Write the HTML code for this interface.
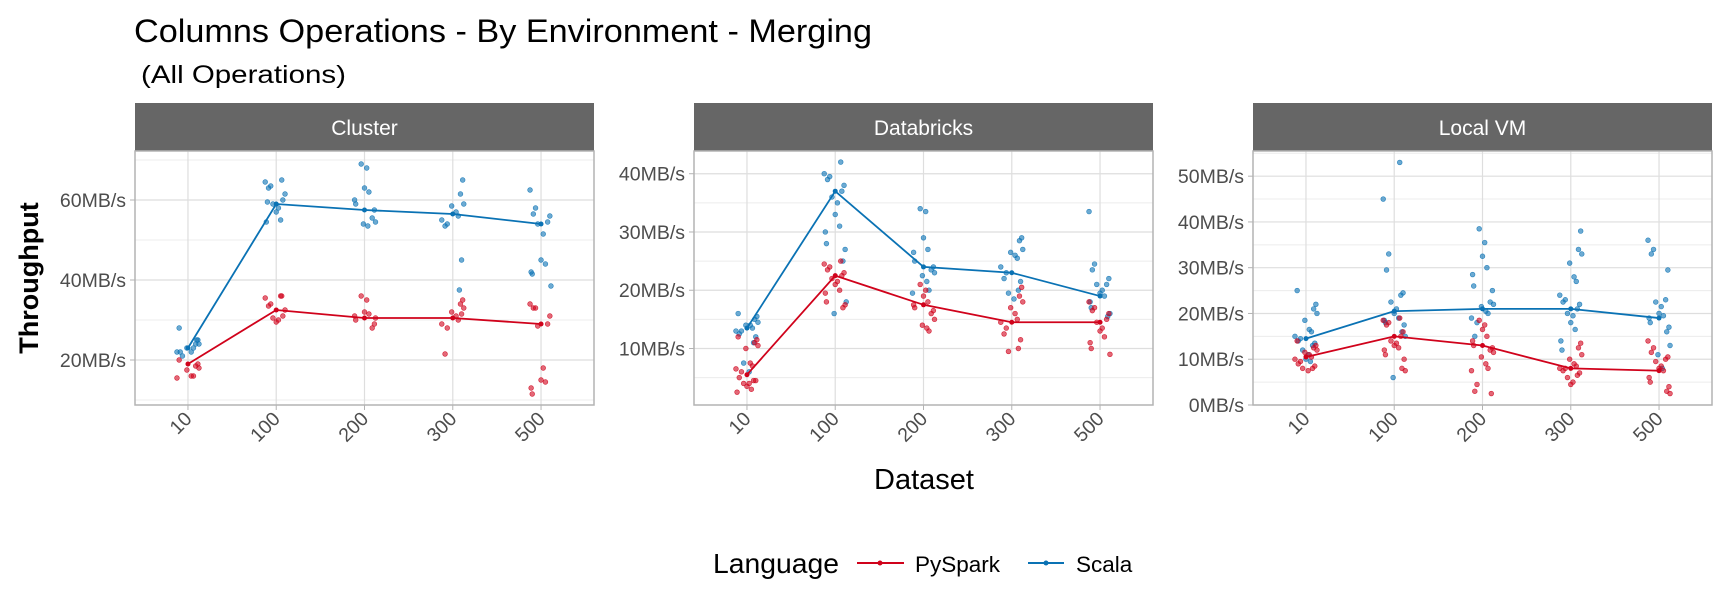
<!DOCTYPE html>
<html><head><meta charset="utf-8"><style>
body{margin:0;background:#fff}
svg{display:block;font-family:"Liberation Sans",Arial,sans-serif}
</style></head><body>
<svg id="c" width="1728" height="614" xmlns="http://www.w3.org/2000/svg">
<text x="134" y="42" font-size="32" textLength="738" lengthAdjust="spacingAndGlyphs" fill="#000">Columns Operations - By Environment - Merging</text>
<text x="141" y="83" font-size="25" textLength="205" lengthAdjust="spacingAndGlyphs" fill="#000">(All Operations)</text>
<text transform="translate(38,278) rotate(-90)" text-anchor="middle" font-size="27" font-weight="bold" fill="#000">Throughput</text>
<text x="924" y="489" text-anchor="middle" font-size="29" fill="#000">Dataset</text>
<g>
<text x="713" y="573" font-size="28" textLength="126" lengthAdjust="spacingAndGlyphs" fill="#000">Language</text>
<g><line x1="857" y1="563" x2="904" y2="563" stroke="#d0021b" stroke-width="2"/><circle cx="880" cy="563" r="2.5" fill="#d0021b"/><text x="915" y="572" font-size="22.5" fill="#000">PySpark</text></g>
<g><line x1="1028" y1="563" x2="1064" y2="563" stroke="#0a72b4" stroke-width="2"/><circle cx="1046" cy="563" r="2.5" fill="#0a72b4"/><text x="1076" y="572" font-size="22.5" fill="#000">Scala</text></g>
</g>
<g id="panels"></g>
</svg>
<script>
const categories=["10","100","200","300","500"];
const panelNames=["Cluster","Databricks","Local VM"];
const yTicks=[[20,40,60],[10,20,30,40],[0,10,20,30,40,50]];
const yMinor=[[10,30,50,70],[5,15,25,35],[5,15,25,35,45,55]];
const yDomain=[[8.75,72.25],[0.3,43.9],[0,55.5]];
const meanPy=[[19,32.5,30.5,30.5,29],[5.5,22.5,17.5,14.5,14.5],[10.5,15,13,8,7.5]];
const meanSc=[[23,59,57.5,56.5,54],[13.5,37,24,23,19],[14.5,20.5,21,21,19]];
const ptsSc=[
[[28,25,24,24,23,22,23,22,21,22,25],[65,64.5,63.5,63,61.5,60,59,58,57,55,54.5,59.5],[69,68,63,62,60,59,57.5,55.5,54.5,54,53.5],[65,61.5,59,58.5,57,56,55,54,53.5,45,37.5],[62.5,58,56.5,56,54.5,54,51.5,45,44,42,41.5,38.5]],
[[16,15.5,15,14.5,14,14,13.5,13,13,12.5,12,11,7.5,6],[42,40,39.5,39,38,37,36,35,33,31,30,28,27,25,18,16],[34,33.5,29,27,26.5,25,24,23.5,23,22.5,21.5,20,19.5],[29,28.5,27,26.5,26,25.5,24,23,22,21.5,20,19.5,18.5],[33.5,24.5,23.5,22,21,21,20,19.5,19,18,17,16,15.5]],
[[25,22,21,20,18.5,16.5,16,15,14.5,14,13.5,13,12,11,10,9.5],[53,45,33,29.5,24.5,24,22.5,21,20,19,18.5,18,17.5,16,15,6],[38.5,35.5,32.5,30,28.5,26,25,22.5,22,21.5,20.5,20,19,18,15],[38,34,33,31,28,27,24,23,22.5,22,21,20,19.5,18,16.5,14,12],[36,34,33,29.5,23,22.5,21.5,20,19.5,19,18,17,16,13,11,8]]];
const ptsPy=[
[[20,19,18.5,18,17.5,16,16,15.5],[36,35.5,34,33.5,32.5,31,30.5,30,29.5,36],[36,35,32,31.5,31,30,29,28,30.5],[35,34,33,32,31,30,29,28,21.5,31.5],[34,33,33,31,29,28.5,18,15,14.5,13,11.5]],
[[12,11.5,11,10.5,10,7.5,7,6.5,6,5,4.5,4.5,4,4,3.5,3,2.5],[25,24.5,24,23.5,23,22.5,22,21.5,21,20,19.5,18,17.5,17],[21,20,19,18,17.5,17,16.5,16,15,14,13.5,13],[20.5,19,18,17,16,15,14.5,13.5,12.5,11.5,10,9.5],[18,17,16.5,16,15,14.5,13.5,13,12,11,10,9]],
[[14,13,12.5,12,11.5,11,10.5,10,9.5,9,8.5,8,8,7.5],[19,18.5,18,17.5,16,15,14,13.5,13,12.5,12,11,10,8,7.5],[18.5,17.5,16.5,15,14,13,12.5,12,11.5,10.5,9,8,7.5,4.5,3,2.5],[13.5,12.5,11,10,9,8.5,8,8,7.5,7,6.5,6,5,4.5],[14,12.5,11.5,10.5,10,9.5,8.5,8,7.5,6,5,4,3,2.5]]];

const NS="http://www.w3.org/2000/svg";
const PX=[135,694,1253],PW=459,TOP=151,BOT=405,STRIP=103;
const PY="#d0021b",SC="#0a72b4";
function mk(t,a,p){const e=document.createElementNS(NS,t);for(const k in a)e.setAttribute(k,a[k]);p.appendChild(e);return e;}
const root=document.getElementById('panels');
const jit=[-8,5,-3,9,-10,2,7,-5,0,10,-7,4,-1,8,-9,3,6];
for(let p=0;p<3;p++){
  const x0=PX[p];
  const xs=i=>x0+(i+0.6)*PW/5.2;
  const [d0,d1]=yDomain[p];
  const ys=v=>BOT-(v-d0)/(d1-d0)*(BOT-TOP);
  const g=mk('g',{},root);
  
  
  const s=mk('rect',{x:x0,y:STRIP,width:PW,height:TOP-STRIP,fill:'#666666'},g);
  
  
  const st=mk('text',{x:x0+PW/2,y:135,'text-anchor':'middle','font-size':21,fill:'#fff'},g);st.textContent=panelNames[p];
  
  
  yMinor[p].forEach(v=>{const y=ys(v);if(y>TOP&&y<BOT)mk('line',{x1:x0,x2:x0+PW,y1:y,y2:y,stroke:'#ececec','stroke-width':1},g);});
  yTicks[p].forEach(v=>{const y=ys(v);mk('line',{x1:x0,x2:x0+PW,y1:y,y2:y,stroke:'#dedede','stroke-width':1.2},g);
    mk('line',{x1:x0-5,x2:x0,y1:y,y2:y,stroke:'#b3b3b3'},g);
    const t=mk('text',{x:x0-9,y:y+7,'text-anchor':'end','font-size':19.5,fill:'#4d4d4d'},g);t.textContent=v+'MB/s';
    
    });
  categories.forEach((c,i)=>{const x=xs(i);mk('line',{x1:x,x2:x,y1:TOP,y2:BOT,stroke:'#dedede','stroke-width':1.2},g);
    mk('line',{x1:x,x2:x,y1:BOT,y2:BOT+5,stroke:'#b3b3b3'},g);
    const t=mk('text',{transform:`translate(${x+5},${BOT+15}) rotate(-45)`,'text-anchor':'end','font-size':19.5,fill:'#4d4d4d'},g);t.textContent=c;
    
    });
  mk('rect',{x:x0,y:TOP,width:PW,height:BOT-TOP,fill:'none',stroke:'#b3b3b3','stroke-width':1.5},g);
  [[ptsSc,SC,meanSc,'scala'],[ptsPy,PY,meanPy,'pyspark']].forEach(([pts,col,mean,nm])=>{
    pts[p].forEach((arr,i)=>arr.forEach((v,k)=>{
      const c=mk('circle',{cx:xs(i)+jit[(k*3+i)%jit.length]*1.1,cy:ys(v),r:2.4,fill:col,'fill-opacity':0.6,stroke:col,'stroke-opacity':0.8,'stroke-width':0.6},g);
      
      
    }));
    const l=mk('polyline',{points:mean[p].map((v,i)=>xs(i)+','+ys(v)).join(' '),fill:'none',stroke:col,'stroke-width':1.8},g);
    
    
    mean[p].forEach((v,i)=>{const c=mk('circle',{cx:xs(i),cy:ys(v),r:2.5,fill:col},g);
      
      });
  });
}
</script>
</body></html>
